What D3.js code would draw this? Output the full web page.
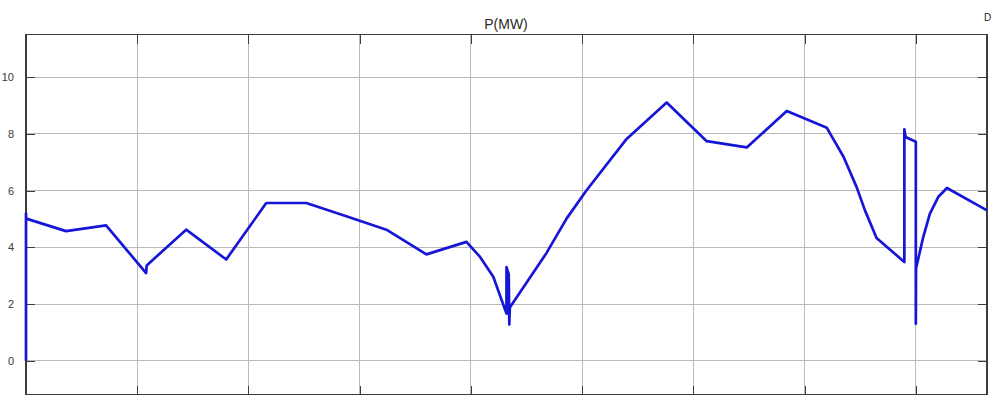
<!DOCTYPE html>
<html>
<head>
<meta charset="utf-8">
<script src="https://cdn.jsdelivr.net/npm/d3@7"></script>
<style>
  html, body { margin: 0; padding: 0; background: #ffffff; }
  svg { display: block; }
</style>
</head>
<body>
<svg id="chart" width="992" height="395"></svg>
<script>
// Simulation time (s) and active power P (MW) over one day
const timeSec = [
  0, 0, 20, 3600, 7200, 10800, 10850, 14400, 18000, 21600, 25200, 28800,
  32400, 36000, 39600, 40824, 42012, 43200, 43200, 43400, 43450, 43500,
  46800, 48600, 50400, 54000, 57600, 61200, 64800, 68400, 72000, 73500,
  74670, 75420, 76470, 78970, 78970, 79080, 80000, 80000, 80020, 80660,
  81260, 82010, 82800, 86400
];
const powerMW = [
  0, 5.19, 5.01, 4.57, 4.77, 3.09, 3.36, 4.62, 3.57, 5.56, 5.56, 5.09,
  4.62, 3.75, 4.19, 3.66, 2.96, 1.66, 3.30, 3.05, 1.28, 1.88,
  3.80, 5.01, 6.01, 7.82, 9.10, 7.74, 7.52, 8.80, 8.21, 7.19,
  6.13, 5.31, 4.33, 3.48, 8.16, 7.89, 7.72, 1.30, 3.25, 4.35,
  5.18, 5.77, 6.09, 5.30
];
const xGridTicks = [10000, 20000, 30000, 40000, 50000, 60000, 70000, 80000];
const yTicks = [0, 2, 4, 6, 8, 10];
const titleText = "P(MW)";

const svg = d3.select("#chart");
const plotLeft = 26, plotRight = 987, plotTop = 34.5, plotBottom = 394.5;

const x = d3.scaleLinear().domain([0, 86400]).range([plotLeft, plotRight]);
const y = d3.scaleLinear().domain([-1.19, 11.5]).range([plotBottom, plotTop]);

const gridColor = "#b9b9b9";
const axisColor = "#3c3c3c";

// grid lines
svg.append("g")
  .selectAll("line")
  .data(xGridTicks)
  .join("line")
  .attr("x1", d => x(d)).attr("x2", d => x(d))
  .attr("y1", plotTop).attr("y2", plotBottom)
  .attr("stroke", gridColor).attr("stroke-width", 1)
  .attr("shape-rendering", "crispEdges");

svg.append("g")
  .selectAll("line")
  .data(yTicks)
  .join("line")
  .attr("x1", plotLeft).attr("x2", plotRight)
  .attr("y1", d => y(d)).attr("y2", d => y(d))
  .attr("stroke", gridColor).attr("stroke-width", 1)
  .attr("shape-rendering", "crispEdges");

// axes with inward ticks on all four sides
const tickLen = 9;
const axLeft = d3.axisLeft(y).tickValues(yTicks).tickSize(-tickLen).tickPadding(tickLen + 3)
  .tickFormat(d3.format("d"));
const axRight = d3.axisRight(y).tickValues(yTicks).tickSize(-tickLen).tickFormat("");
const axTop = d3.axisTop(x).tickValues(xGridTicks).tickSize(-tickLen).tickFormat("");
const axBottom = d3.axisBottom(x).tickValues(xGridTicks).tickSize(-tickLen).tickFormat("");

function styleAxis(g) {
  g.select(".domain").remove();
  g.selectAll(".tick line").attr("stroke", axisColor).attr("stroke-width", 1)
    .attr("shape-rendering", "crispEdges");
  g.selectAll(".tick text")
    .attr("fill", "#3a3a3a")
    .style("font-family", "'Liberation Sans', Arial, sans-serif")
    .style("font-size", "11px");
}

svg.append("g").attr("transform", `translate(${plotLeft},0)`).call(axLeft).call(styleAxis);
svg.append("g").attr("transform", `translate(${plotRight},0)`).call(axRight).call(styleAxis);
svg.append("g").attr("transform", `translate(0,${plotTop})`).call(axTop).call(styleAxis);
svg.append("g").attr("transform", `translate(0,${plotBottom})`).call(axBottom).call(styleAxis);

// plot frame
svg.append("rect")
  .attr("x", plotLeft).attr("y", plotTop)
  .attr("width", plotRight - plotLeft).attr("height", plotBottom - plotTop)
  .attr("fill", "none").attr("stroke", axisColor).attr("stroke-width", 1.2)
  .attr("shape-rendering", "crispEdges");

// power trace
const pts = timeSec.map((t, i) => [t, powerMW[i]]);
const line = d3.line().x(d => x(d[0])).y(d => y(d[1]));
svg.append("path")
  .datum(pts)
  .attr("d", line)
  .attr("fill", "none")
  .attr("stroke", "#1616d6")
  .attr("stroke-width", 2.7)
  .attr("stroke-linejoin", "round");

// title
svg.append("text")
  .attr("x", 506).attr("y", 29)
  .attr("text-anchor", "middle")
  .attr("fill", "#2a2a2a")
  .style("font-family", "'Liberation Sans', Arial, sans-serif")
  .style("font-size", "14px")
  .text(titleText);

svg.append("text")
  .attr("x", 984).attr("y", 21)
  .attr("fill", "#222")
  .style("font-family", "'Liberation Sans', Arial, sans-serif")
  .style("font-size", "10px")
  .text("D");
</script>
</body>
</html>
